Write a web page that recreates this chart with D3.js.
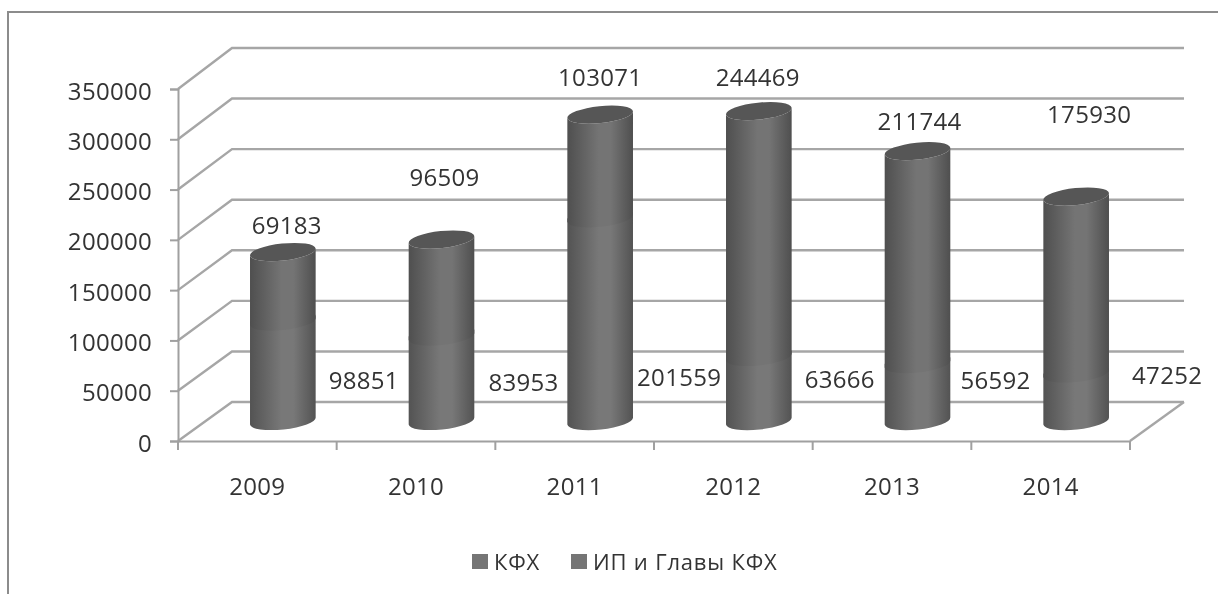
<!DOCTYPE html>
<html lang="ru">
<head>
    <meta charset="utf-8" />
    <title>КФХ и ИП</title>
    <style>
        html, body { margin: 0; padding: 0; background: #fff; }
        svg { display: block; filter: blur(0.6px); }
        text { font-family: "Open Sans", sans-serif; font-size: 24px; fill: #333; letter-spacing: 0.3px; }
        .axis path, .axis line { fill: none; stroke: #a0a0a0; stroke-width: 2px; }
        .axis text { font-family: "Open Sans", sans-serif; font-size: 24px; fill: #333; letter-spacing: 0.3px; }
        .wall { fill: none; stroke: #a6a6a6; stroke-width: 2.4px; }
        .legend text { font-size: 22px; letter-spacing: 0.8px; }
    </style>
</head>
<body>
<div id="graph"></div>
<script src="https://d3js.org/d3.v7.min.js"></script>
<script>
    var years = ["2009", "2010", "2011", "2012", "2013", "2014"];
    var kfh = [98851, 83953, 201559, 63666, 56592, 47252];
    var ipGlavy = [69183, 96509, 103071, 244469, 211744, 175930];
    var seriesNames = ["КФХ", "ИП и Главы КФХ"];
    var yTicks = [0, 50000, 100000, 150000, 200000, 250000, 300000, 350000];

    var width = 1218, height = 594;

    // label placement is hand-made in the original, offset from bar centre / bar base
    var upperNudge = [[4, -27], [3, -62], [0, -37], [-1, -34], [2, -30], [13, -82]];
    var lowerNudge = [[81, -41], [82, -39], [79, -44], [81, -42], [78, -41], [91, -46]];

    var x = d3.scaleBand().domain(years).range([178, 1130]);
    var y = d3.scaleLinear().domain([0, 350000]).range([441, 89]);
    var wallY = d3.scaleLinear().domain([0, 350000]).range([402, 48]);

    var depthX = 54, barShiftX = 25.5, barShiftY = -20;
    var rx = 33, ry = 8.5, tilt = -6;
    var cosT = Math.cos(tilt * Math.PI / 180), sinT = Math.sin(tilt * Math.PI / 180);

    var svg = d3.select("#graph").append("svg")
        .attr("width", width)
        .attr("height", height);

    function gradient(id, edge, mid) {
        var g = svg.append("defs").append("linearGradient").attr("id", id);
        g.append("stop").attr("offset", "0%").attr("stop-color", edge);
        g.append("stop").attr("offset", "48%").attr("stop-color", mid);
        g.append("stop").attr("offset", "66%").attr("stop-color", mid);
        g.append("stop").attr("offset", "100%").attr("stop-color", edge);
    }
    gradient("lowGrad", "#535353", "#787878");
    gradient("highGrad", "#4f4f4f", "#747474");

    // chart frame, only top and left show
    svg.append("path")
        .attr("d", "M8,594V12H" + width)
        .attr("fill", "none")
        .attr("stroke", "#8c8c8c")
        .attr("stroke-width", 2);

    // back wall gridlines + side wall diagonals
    var walls = svg.append("g").attr("class", "wall");
    walls.selectAll("path.grid")
        .data(yTicks)
        .join("path")
        .attr("class", "grid")
        .attr("d", function (d) {
            return "M178," + y(d) + "L" + (178 + depthX) + "," + wallY(d) + "H" + (1130 + depthX);
        });
    walls.append("path")
        .attr("d", "M1130," + y(0) + "L" + (1130 + depthX) + "," + wallY(0));

    var yAxis = d3.axisLeft(y).tickValues(yTicks).tickSize(8).tickPadding(18).tickFormat(d3.format("d"));
    var yg = svg.append("g")
        .attr("class", "axis")
        .attr("transform", "translate(178,0)")
        .call(yAxis);
    yg.selectAll("text").attr("dy", "0.42em");

    var xAxis = d3.axisBottom(x).tickSize(0).tickPadding(37);
    var xg = svg.append("g")
        .attr("class", "axis")
        .attr("transform", "translate(0," + y(0) + ")")
        .call(xAxis);
    xg.selectAll("line.edge")
        .data(d3.range(years.length + 1))
        .join("line")
        .attr("class", "edge")
        .attr("x1", function (i) { return 178 + i * x.step(); })
        .attr("x2", function (i) { return 178 + i * x.step(); })
        .attr("y1", 0)
        .attr("y2", 9);

    var table = years.map(function (year, i) {
        return { year: year, kfh: kfh[i], ip: ipGlavy[i] };
    });
    var stacked = d3.stack().keys(["kfh", "ip"])(table);

    function barCx(i) { return x(years[i]) + x.bandwidth() / 2 + barShiftX; }

    function cylinder(cx, bottom, top) {
        var dx = rx * cosT, dy = rx * sinT;
        var arc = "A" + rx + "," + ry + "," + tilt + ",0,";
        return "M" + (cx - dx) + "," + (top - dy) +
            "L" + (cx - dx) + "," + (bottom - dy) +
            arc + "0," + (cx + dx) + "," + (bottom + dy) +
            "L" + (cx + dx) + "," + (top + dy) +
            arc + "1," + (cx - dx) + "," + (top - dy) + "Z";
    }

    var gradIds = ["lowGrad", "highGrad"];
    var overlap = [4, 0]; // lower part runs under the upper one, avoids a light seam
    stacked.forEach(function (layer, s) {
        svg.append("g").selectAll("path")
            .data(layer)
            .join("path")
            .attr("fill", "url(#" + gradIds[s] + ")")
            .attr("d", function (d, i) {
                return cylinder(barCx(i), y(d[0]) + barShiftY, y(d[1]) + barShiftY - overlap[s]);
            });
    });

    // top caps
    svg.append("g").selectAll("ellipse")
        .data(stacked[1])
        .join("ellipse")
        .attr("rx", rx)
        .attr("ry", ry)
        .attr("fill", "#565656")
        .attr("transform", function (d, i) {
            return "translate(" + barCx(i) + "," + (y(d[1]) + barShiftY) + ") rotate(" + tilt + ")";
        });

    // data labels
    svg.append("g").selectAll("text")
        .data(ipGlavy)
        .join("text")
        .attr("text-anchor", "middle")
        .attr("dy", "0.36em")
        .attr("x", function (d, i) { return barCx(i) + upperNudge[i][0]; })
        .attr("y", function (d, i) { return y(kfh[i] + d) + barShiftY + upperNudge[i][1]; })
        .text(function (d) { return d; });

    svg.append("g").selectAll("text")
        .data(kfh)
        .join("text")
        .attr("text-anchor", "middle")
        .attr("dy", "0.36em")
        .attr("x", function (d, i) { return barCx(i) + lowerNudge[i][0]; })
        .attr("y", function (d, i) { return y(0) + barShiftY + lowerNudge[i][1]; })
        .text(function (d) { return d; });

    // legend
    var legendX = [472, 571];
    var legend = svg.append("g").attr("class", "legend").selectAll("g")
        .data(seriesNames)
        .join("g")
        .attr("transform", function (d, i) { return "translate(" + legendX[i] + ",554)"; });
    legend.append("rect")
        .attr("width", 16)
        .attr("height", 15)
        .attr("fill", "#757575");
    legend.append("text")
        .attr("x", 22)
        .attr("y", 16)
        .text(function (d) { return d; });
</script>
</body>
</html>
